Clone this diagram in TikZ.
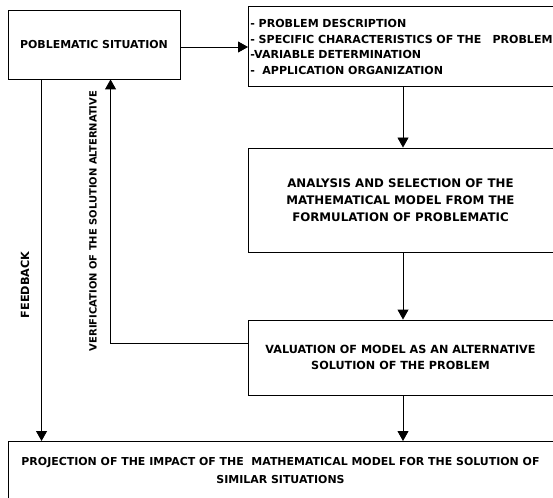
\documentclass[tikz,border=0pt]{standalone}
\usepackage{fontspec}
\setmainfont{DejaVu Sans}
\usetikzlibrary{arrows.meta}
\begin{document}
\begin{tikzpicture}[x=1bp,y=-1bp,
  box/.style={draw, line width=0.9bp, inner sep=2bp, font=\bfseries\fontsize{11}{16.5}\selectfont, align=center},
  arr/.style={line width=0.9bp, -{Triangle[length=10bp,width=11bp]}},
  lbl/.style={font=\bfseries\fontsize{10.5}{12}\selectfont, rotate=90, inner sep=0pt}]
\useasboundingbox (0,0) rectangle (553,498);
\fill[white] (0,0) rectangle (553,498);
\node[box, minimum width=172bp, minimum height=69bp] (b1) at (94,44.5) {POBLEMATIC SITUATION};
\node[box, anchor=north west, minimum height=80bp, text width=330bp, align=left, font=\bfseries\fontsize{11.1}{15.8}\selectfont] (b2) at (248,6.5)
  {- PROBLEM DESCRIPTION\\- SPECIFIC CHARACTERISTICS OF THE\ \ \ PROBLEM\\-VARIABLE DETERMINATION\\-\ \ APPLICATION ORGANIZATION};
\node[box, minimum width=305bp, minimum height=104bp, font=\bfseries\fontsize{11.85}{17.2}\selectfont] (b3) at (400.5,200)
  {ANALYSIS AND SELECTION OF THE\\MATHEMATICAL MODEL FROM THE\\FORMULATION OF PROBLEMATIC};
\node[box, minimum width=305bp, minimum height=75bp, font=\bfseries\fontsize{11.25}{16.8}\selectfont] (b4) at (400.5,357.5)
  {VALUATION OF MODEL AS AN ALTERNATIVE\\SOLUTION OF THE PROBLEM};
\node[box, minimum width=546bp, minimum height=60bp, anchor=north west] (b5) at (8,441) {};
\node[font=\bfseries\fontsize{11}{18}\selectfont, align=center, anchor=north, inner sep=0pt] (t5) at (280.5,457.5)
  {PROJECTION OF THE IMPACT OF THE\ \ MATHEMATICAL MODEL FOR THE SOLUTION OF\\SIMILAR SITUATIONS};
\node[lbl, font=\bfseries\fontsize{11.3}{12}\selectfont] (fb) at (25,285) {FEEDBACK};
\node[lbl, font=\bfseries\fontsize{10}{12}\selectfont] (vf) at (93,221) {VERIFICATION OF THE SOLUTION ALTERNATIVE};
\draw[arr] ([yshift=-2.5bp]b1.east) -- ([yshift=-2.5bp]b1.east -| b2.west);
\draw[arr] ([xshift=2.5bp]b3.north |- b2.south) -- ([xshift=2.5bp]b3.north);
\draw[arr] ([xshift=2.5bp]b3.south) -- ([xshift=2.5bp]b4.north);
\draw[arr] ([xshift=2.5bp]b4.south) -- ([xshift=2.5bp]b4.south |- b5.north);
\draw[arr] ([xshift=34bp]b1.south west) -- ([xshift=34bp]b1.south west |- b5.north);
\draw[arr] ([yshift=14.5bp]b4.west) -| ([xshift=103bp]b1.south west);
\end{tikzpicture}
\end{document}
